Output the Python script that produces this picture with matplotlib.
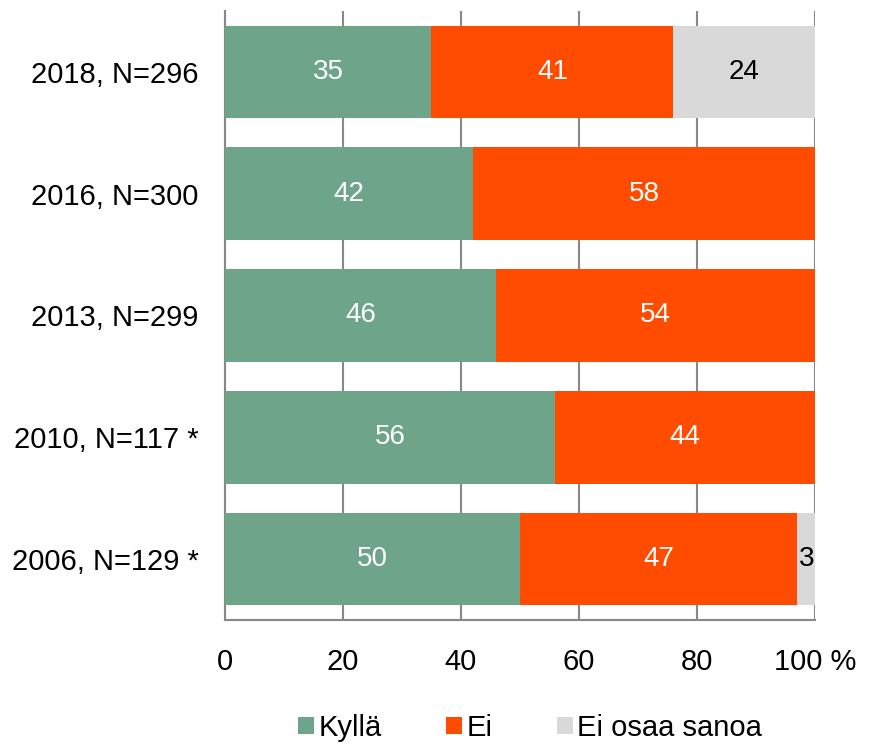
import matplotlib.pyplot as plt
import numpy as np

plt.rcParams['font.family'] = ['Liberation Sans', 'DejaVu Sans']

years = ['2006, N=129 *', '2010, N=117 *', '2013, N=299', '2016, N=300', '2018, N=296']
kylla = [50, 56, 46, 42, 35]
ei = [47, 44, 54, 58, 41]
eos = [3, 0, 0, 0, 24]

colors = ['#6EA58A', '#FF4C00', '#D9D9D9']
names = ['Kyllä', 'Ei', 'Ei osaa sanoa']

fig = plt.figure(figsize=(8.79, 7.49), dpi=100)
ax = fig.add_axes([225/879, 1-620/749, (815-225)/879, (620-11)/749])

y = np.arange(len(years))
left = np.zeros(len(years))
for vals, c, n in zip([kylla, ei, eos], colors, names):
    vals = np.array(vals)
    ax.barh(y, vals, left=left, height=0.76, color=c, label=n, zorder=3)
    for i, v in enumerate(vals):
        if v > 0:
            tc = 'black' if c == '#D9D9D9' else 'white'
            ax.text(left[i] + v/2, i, str(v), ha='center', va='center',
                    color=tc, fontsize=20, zorder=4)
    left += vals

ax.set_xlim(0, 100)
ax.set_ylim(-0.5, 4.5)
ax.set_yticks(y)
ax.set_yticklabels(years, fontsize=21)
ax.set_xticks([0, 20, 40, 60, 80, 100])
ax.set_xticklabels(['0', '20', '40', '60', '80', '100 %'], fontsize=21)
ax.xaxis.grid(True, color='#888888', linewidth=1.5, zorder=0)
ax.tick_params(axis='x', length=0, pad=20)
ax.tick_params(axis='y', length=0, pad=19)
for s in ['top', 'right']:
    ax.spines[s].set_visible(False)
for s in ['left', 'bottom']:
    ax.spines[s].set_color('#888888')
    ax.spines[s].set_linewidth(1.5)

fig.legend(loc='center', bbox_to_anchor=(0.603, 0.028), ncol=3, frameon=False,
           fontsize=21, handlelength=0.55, handleheight=0.55, handletextpad=0.15,
           columnspacing=2.2, borderpad=0.1)

fig.savefig('out.png', dpi=100)
